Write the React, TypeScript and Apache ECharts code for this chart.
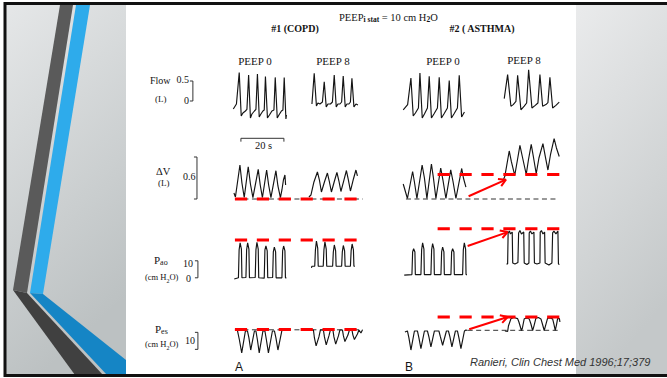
import React, { useEffect, useRef } from "react";
import * as echarts from "echarts";

// ---- Data (time in s on a shared per-row time axis; values in L or cmH2O) ----
// Row 1: Flow (L)
const flowA0 = [[3.9,-0.2],[5.35,-0.075],[6.65,0.71],[7.58,-0.375],[8.37,-0.3],[9.53,-0.25],[10.23,-0.21],[11.02,0.65],[11.86,-0.425],[12.56,-0.325],[13.72,-0.25],[14.42,-0.21],[15.12,0.675],[15.95,-0.4],[16.74,-0.325],[17.67,-0.25],[18.28,-0.225],[18.84,0.61],[19.77,-0.425],[20.7,-0.35],[21.86,-0.25],[22.79,-0.225],[23.4,0.59],[24.33,-0.425],[25.12,-0.35],[26.28,-0.25],[26.98,-0.225],[27.58,0.59],[28.37,-0.45],[28.6,-0.35]];
const flowA8 = [[40.47,-0.075],[41.53,0.69],[42.56,-0.125],[43.26,-0.05],[44.19,-0.075],[45.35,-0.025],[46.19,0.48],[47.12,-0.15],[47.91,-0.075],[49.07,-0.075],[50.0,-0.025],[50.84,0.65],[51.77,-0.15],[52.56,-0.075],[53.49,-0.075],[54.28,-0.025],[55.02,0.625],[55.95,-0.15],[56.74,-0.075],[57.67,-0.075],[58.37,-0.025],[59.07,0.57],[60.0,-0.15],[60.93,-0.075],[61.86,-0.1]];
const flowB0 = [[82.93,-0.22],[84.98,-0.09],[86.51,0.575],[87.58,-0.375],[88.6,-0.3],[90.0,-0.175],[90.7,0.7],[91.77,-0.425],[92.79,-0.325],[94.19,-0.175],[95.02,0.62],[96.05,-0.425],[97.21,-0.325],[98.84,-0.175],[99.67,0.59],[100.7,-0.425],[101.86,-0.325],[103.49,-0.175],[104.33,0.51],[105.35,-0.425],[106.51,-0.325],[108.14,-0.175],[108.98,0.64],[110.09,-0.4],[111.4,-0.275]];
const flowB8 = [[129.91,0.06],[131.49,0.66],[133.02,-0.13],[134.09,-0.09],[135.35,-0.01],[136.14,0.64],[137.67,-0.22],[139.21,-0.13],[140.33,-0.05],[141.26,0.78],[142.79,-0.175],[144.33,-0.11],[145.58,-0.05],[146.51,0.66],[147.77,-0.13],[149.3,-0.09],[150.23,-0.04],[151.16,0.59],[152.42,-0.175],[153.95,-0.11],[155.49,-0.03]];

// Row 2: ΔV (L)
const dvA0 = [[4.19,0.086],[4.88,0.029],[6.98,0.486],[7.91,0.229],[8.98,0.021],[10.84,0.461],[11.86,0.214],[13.02,0.021],[15.49,0.424],[16.42,0.2],[17.44,0.021],[19.4,0.414],[20.33,0.2],[21.4,0.021],[23.72,0.404],[24.65,0.186],[25.81,0.021],[26.51,0.129],[27.21,0.271],[27.91,0.343],[28.23,0.2]];
const dvA8 = [[39.07,0.029],[40.0,0.057],[41.4,0.243],[43.02,0.386],[43.95,0.271],[44.88,0.1],[46.28,0.243],[47.67,0.371],[48.6,0.243],[49.53,0.1],[50.93,0.257],[52.09,0.379],[53.02,0.257],[53.95,0.107],[55.35,0.271],[56.51,0.407],[57.44,0.271],[58.37,0.114],[59.77,0.286],[60.93,0.414],[61.63,0.329]];
const dvB0 = [[82.93,0.214],[84.88,0.007],[87.3,0.393],[88.14,0.243],[89.3,0.007],[91.72,0.486],[92.79,0.3],[93.95,0.007],[96.05,0.5],[96.98,0.3],[98.14,0.007],[100.37,0.443],[101.4,0.271],[102.79,0.007],[105.02,0.417],[106.05,0.257],[107.44,0.007],[110.14,0.436],[110.93,0.3],[112.09,0.171]];
const dvB8 = [[129.3,0.257],[130.23,0.329],[132.23,0.686],[133.26,0.529],[134.79,0.336],[136.05,0.557],[137.21,0.767],[138.37,0.6],[140.14,0.35],[141.16,0.557],[142.47,0.779],[143.49,0.6],[144.79,0.361],[146.05,0.586],[147.91,0.79],[148.98,0.614],[150.23,0.414],[151.4,0.629],[153.12,0.861],[154.19,0.729],[155.49,0.607]];

// Row 3: Pao (cmH2O)
const paoA0 = [[4.33,-0.7],[6.28,0],[6.6,16.4],[7.07,20.5],[7.67,16.9],[7.91,0],[9.77,0.2],[10.09,16.4],[10.56,20.5],[11.16,16.9],[11.4,0],[14.09,0.2],[14.42,16.4],[14.88,20.8],[15.49,16.9],[15.72,0],[18.28,-0.2],[18.6,16.4],[19.07,18.7],[19.67,15.8],[19.91,0],[22.19,0.2],[22.51,15.2],[22.98,18.1],[23.58,15.2],[23.81,0],[26.51,0],[26.84,15.8],[27.3,18.7],[27.91,15.8],[28.14,0],[28.6,0]];
const paoA8 = [[40.23,5.8],[40.47,6.8],[41.77,6.8],[42.09,16.4],[42.56,21.6],[43.16,17.5],[43.4,6.8],[45.72,6.8],[46.05,16.4],[46.51,21.1],[47.12,16.9],[47.35,6.8],[50.09,6.8],[50.42,15.2],[50.88,19.3],[51.49,15.8],[51.72,6.8],[54.28,6.8],[54.6,15.2],[55.07,19.0],[55.67,15.8],[55.91,6.8],[58.37,6.8],[58.7,15.8],[59.16,19.9],[59.77,16.4],[60.0,6.8],[60.47,6.8]];
const paoB0 = [[83.4,1.6],[86.98,1.9],[87.3,15.2],[87.77,17.1],[88.37,15.2],[88.56,1.9],[91.16,1.9],[91.49,16.4],[91.95,20.6],[92.56,16.9],[92.74,1.9],[95.81,1.9],[96.14,16.4],[96.6,20.1],[97.21,16.9],[97.4,1.9],[100.47,1.9],[100.79,15.2],[101.26,18.1],[101.86,15.2],[102.05,1.9],[105.12,1.9],[105.44,15.2],[105.91,17.1],[106.51,15.2],[106.7,1.9],[110.56,1.9],[110.88,16.4],[111.35,20.6],[111.95,16.9],[112.14,1.9],[112.56,1.9]];
const paoB8 = [[130.93,8.1],[131.49,8.1],[131.72,26.4],[132.33,27.5],[132.79,25.8],[133.63,26.9],[133.86,8.7],[134.88,8.1],[136.28,9.0],[136.6,26.4],[137.21,27.8],[137.91,25.8],[138.98,26.9],[139.21,8.7],[140.47,7.8],[141.4,8.7],[141.53,26.4],[142.09,27.5],[142.79,25.8],[143.72,26.9],[143.95,8.7],[145.12,8.1],[146.51,8.7],[146.65,26.9],[147.21,27.8],[147.91,25.8],[148.7,26.9],[148.93,8.7],[150.7,7.5],[152.09,8.7],[152.42,26.4],[153.02,27.5],[153.95,25.8],[154.88,27.5],[155.12,8.1],[155.58,7.8]];

// Row 4: Pes (cmH2O)
const pesA0 = [[4.88,-0.1],[5.81,-0.4],[6.74,-6.0],[7.81,-13.6],[9.53,-0.7],[10.47,-0.7],[11.16,-4.8],[12.0,-11.9],[13.72,-0.7],[14.42,-0.7],[15.12,-6.0],[15.95,-13.6],[17.67,-0.7],[18.6,-0.7],[19.3,-6.0],[20.23,-13.6],[22.09,-0.7],[23.02,-0.7],[23.72,-4.8],[24.65,-11.9],[26.51,-0.4],[28.37,0.2]];
const pesA8 = [[40.0,-0.1],[41.16,-0.1],[41.63,-4.8],[42.42,-9.5],[43.72,-4.2],[44.42,-0.1],[45.81,-0.1],[46.28,-4.2],[47.12,-8.9],[48.37,-3.6],[49.07,-0.1],[50.23,-0.1],[50.7,-4.2],[51.53,-8.4],[52.79,-3.6],[53.49,-0.1],[54.65,-0.1],[55.12,-3.6],[55.81,-6.9],[57.21,-3.1],[57.91,-0.1],[59.07,-0.1],[59.53,-3.1],[60.23,-5.7],[61.63,-2.5],[62.33,-0.1],[63.26,-1.9],[63.95,-0.1]];
const pesB0 = [[83.72,-1.3],[84.88,-0.7],[85.58,-4.8],[86.51,-11.9],[88.14,-0.7],[89.53,-0.7],[90.23,-4.8],[91.16,-11.1],[92.79,-0.7],[94.19,-0.7],[94.88,-4.2],[95.81,-10.1],[97.44,-0.7],[99.53,-0.7],[100.23,-4.2],[101.26,-9.1],[103.02,-0.7],[103.95,-0.7],[104.65,-4.2],[105.58,-10.1],[107.21,-0.7],[108.14,-0.7],[108.84,-4.8],[109.77,-11.1],[111.4,-0.7],[112.09,-0.1],[112.79,-0.4]];
const pesB8 = [[130.23,-0.7],[131.49,-1.0],[131.86,2.2],[133.02,6.5],[134.42,7.2],[136.14,6.6],[136.74,4.6],[137.91,-0.4],[138.37,1.1],[139.21,6.5],[140.47,6.9],[141.53,6.4],[142.33,3.4],[143.12,-0.4],[143.72,2.2],[144.65,6.9],[145.81,7.2],[146.98,6.4],[147.67,3.4],[148.51,-0.4],[149.07,2.2],[150.09,6.9],[151.16,6.9],[152.42,6.4],[153.02,3.4],[153.63,-0.4],[154.19,2.8],[154.74,6.6],[155.58,6.6],[155.81,4.6]];

// Reference levels (red dashed) and baselines (black dashed)
const dvRedA = [[4.65,0],[61.4,0]];
const paoRedA = [[4.65,22.2],[61.4,22.2]];
const pesRedA = [[4.65,0.2],[61.4,0.2]];
const dvRedB = [[98.93,0.35],[155.81,0.35]];
const paoRedB = [[98.93,28.9],[155.81,28.9]];
const pesRedB = [[98.93,7.5],[155.81,7.5]];
const dvBaseA = [[4.65,0],[64.2,0]];
const pesBaseA = [[4.65,0],[64.2,0]];
const dvBaseB = [[84.2,0],[155.3,0]];
const pesBaseB = [[112.9,-0.3],[155.3,-0.3]];

// Arrows (shaft and head)
const dvArrow = [[113.35,0.039],[130.7,0.276]];
const dvArrowHead = [[126.98,0.287],[130.7,0.276],[128.51,0.183]];
const paoArrow = [[112.88,18.7],[131.49,26.9]];
const paoArrowHead = [[127.81,27.8],[131.49,26.9],[129.07,23.4]];
const pesArrow = [[113.63,0.3],[131.49,7.5]];
const pesArrowHead = [[127.86,8.5],[131.49,7.5],[128.98,4.1]];

// Scale brackets and time bar
const flowBracket = [[-16.3,0.5],[-14.9,0.5],[-14.9,0],[-16.3,0]];
const dvBracket = [[-14.4,0.6],[-13.0,0.6],[-13.0,0],[-14.4,0]];
const paoBracket = [[-13.95,10],[-12.56,10],[-12.56,0],[-13.95,0]];
const pesBracket = [[-13.95,-1.5],[-12.56,-1.5],[-12.56,-11.5],[-13.95,-11.5]];
const timeBar = [[7.44,0.819],[7.44,0.867],[27.44,0.867],[27.44,0.819]];

const rowRanges = [[-0.6, 0.9], [-0.15, 1.0], [-4, 34], [-18, 14]];
const rowTops = [65, 129, 220, 306];
const rowHeights = [60, 80.5, 64.6, 54.4];

const SERIF = "Liberation Serif";
const INK = "#141414";

export default function App() {
  const ref = useRef<HTMLDivElement>(null);
  useEffect(() => {
    if (!ref.current) return;
    const chart = echarts.init(ref.current, undefined, { renderer: "svg" });

    const trace = (data: number[][], g: number, extra: any = {}) => ({
      type: "line",
      xAxisIndex: g,
      yAxisIndex: g,
      data,
      symbol: "none",
      showSymbol: false,
      silent: true,
      clip: false,
      z: extra.z ?? 3,
      lineStyle: { color: INK, width: 1.15, ...(extra.ls || {}) },
    });
    const red = (data: number[][], g: number) =>
      trace(data, g, { z: 5, ls: { color: "#ff0000", width: 3, type: [12.2, 9.7], cap: "butt" } });
    const base = (data: number[][], g: number) =>
      trace(data, g, { z: 2, ls: { color: "#333", width: 1, type: [5, 3.5] } });
    const arrow = (data: number[][], g: number) =>
      trace(data, g, { z: 6, ls: { color: "#ff0000", width: 2 } });
    const thin = (data: number[][], g: number) =>
      trace(data, g, { ls: { color: "#333", width: 1 } });

    const txt = (text: string, x: number, y: number, o: any = {}) => ({
      type: "text",
      x,
      y,
      silent: true,
      style: {
        text,
        fontFamily: o.family || SERIF,
        fontSize: o.size || 10,
        fontWeight: o.weight || "normal",
        fontStyle: o.style || "normal",
        fill: o.fill || INK,
        align: o.align || "left",
        verticalAlign: "middle",
        lineHeight: o.lh || 13,
        rich: o.rich,
      },
    });
    const subRich = (size: number, weight = "normal") => ({
      s: { fontFamily: SERIF, fontSize: size, fontWeight: weight, lineHeight: size, verticalAlign: "bottom", fill: INK },
    });

    const option: any = {
      animation: false,
      backgroundColor: "#ffffff",
      grid: rowTops.map((t, i) => ({ left: 140, width: 430, top: t, height: rowHeights[i], show: false })),
      xAxis: rowTops.map((_, i) => ({ type: "value", gridIndex: i, min: -39.5, max: 160.5, show: false })),
      yAxis: rowTops.map((_, i) => ({ type: "value", gridIndex: i, min: rowRanges[i][0], max: rowRanges[i][1], show: false })),
      series: [
        trace(flowA0, 0), trace(flowA8, 0), trace(flowB0, 0), trace(flowB8, 0),
        trace(dvA0, 1), trace(dvA8, 1), trace(dvB0, 1), trace(dvB8, 1),
        trace(paoA0, 2), trace(paoA8, 2), trace(paoB0, 2), trace(paoB8, 2),
        trace(pesA0, 3), trace(pesA8, 3), trace(pesB0, 3), trace(pesB8, 3),
        base(dvBaseA, 1), base(pesBaseA, 3), base(dvBaseB, 1), base(pesBaseB, 3),
        red(dvRedA, 1), red(paoRedA, 2), red(pesRedA, 3),
        red(dvRedB, 1), red(paoRedB, 2), red(pesRedB, 3),
        arrow(dvArrow, 1), arrow(dvArrowHead, 1),
        arrow(paoArrow, 2), arrow(paoArrowHead, 2),
        arrow(pesArrow, 3), arrow(pesArrowHead, 3),
        thin(flowBracket, 0), thin(dvBracket, 1), thin(paoBracket, 2), thin(pesBracket, 3),
        thin(timeBar, 1),
      ],
      graphic: [
        {
          type: "rect", z: 0, silent: true,
          shape: { x: 6, y: 5, width: 120, height: 369 },
          style: { fill: { type: "linear", x: 0, y: 0, x2: 0.3, y2: 1, colorStops: [{ offset: 0, color: "#e5e7e8" }, { offset: 1, color: "#bcc1c2" }] } },
        },
        {
          type: "rect", z: 0, silent: true,
          shape: { x: 576, y: 5, width: 95, height: 369 },
          style: { fill: { type: "linear", x: 0, y: 0, x2: 0.3, y2: 1, colorStops: [{ offset: 0, color: "#eaebec" }, { offset: 1, color: "#c4c8c9" }] } },
        },
        { type: "polygon", z: 1, silent: true, shape: { points: [[60, 5], [73, 5], [27, 293], [13, 290]] }, style: { fill: "#5a5a5a" } },
        { type: "polygon", z: 1, silent: true, shape: { points: [[76, 5], [90, 5], [43, 294], [30, 293]] }, style: { fill: "#2eabeb" } },
        { type: "polygon", z: 1, silent: true, shape: { points: [[13, 290], [27, 293], [103, 375], [75, 375]] }, style: { fill: "#404040" } },
        { type: "polygon", z: 1, silent: true, shape: { points: [[30, 293], [43, 294], [126, 360], [126, 375], [107, 375]] }, style: { fill: "#1585c5" } },
        {
          type: "rect", z: 20, silent: true,
          shape: { x: 5, y: 3.5, width: 680, height: 372 },
          style: { fill: "none", stroke: "#111", lineWidth: 3 },
        },
        txt("PEEP{s|i stat} = 10 cm H{s|2}O", 339, 17, { size: 10.5, rich: subRich(7.5, "bold") }),
        txt("#1 (COPD)", 295, 28.5, { align: "center", weight: "bold", size: 10 }),
        txt("#2 ( ASTHMA)", 482, 28.5, { align: "center", weight: "bold", size: 10 }),
        txt("PEEP 0", 255, 61, { align: "center", size: 11 }),
        txt("PEEP 8", 333, 61, { align: "center", size: 11 }),
        txt("PEEP 0", 443, 61, { align: "center", size: 11 }),
        txt("PEEP 8", 524, 60, { align: "center", size: 11 }),
        txt("Flow", 150, 80.5, { size: 10 }),
        txt("(L)", 155, 98.5, { size: 9 }),
        txt("0.5", 189, 79.5, { align: "right", size: 10 }),
        txt("0", 189, 100, { align: "right", size: 10 }),
        txt("20 s", 263.5, 145.5, { align: "center", size: 10.5 }),
        txt("ΔV", 156, 171, { size: 10.5 }),
        txt("(L)", 158, 183, { size: 9 }),
        txt("0.6", 183, 176, { size: 10 }),
        txt("P{s|ao}", 154, 260, { size: 11, rich: subRich(8) }),
        txt("(cm H{s|2}O)", 145, 277, { size: 8.5, rich: subRich(6) }),
        txt("10", 193, 263, { align: "right", size: 10 }),
        txt("0", 191, 278.5, { align: "right", size: 10 }),
        txt("P{s|es}", 155, 329, { size: 11, rich: subRich(8) }),
        txt("(cm H{s|2}O)", 145, 344, { size: 8.5, rich: subRich(6) }),
        txt("10", 195, 340, { align: "right", size: 10 }),
        txt("A", 239, 366.5, { align: "center", size: 12, family: "Liberation Sans" }),
        txt("B", 409, 366.5, { align: "center", size: 12, family: "Liberation Sans" }),
        txt("Ranieri, Clin Chest Med 1996;17;379", 470, 362, { size: 11, family: "Liberation Sans", style: "italic", fill: "#333" }),
      ],
    };
    chart.setOption(option);
    return () => chart.dispose();
  }, []);

  return (
    <div
      ref={ref}
      style={{ position: "absolute", left: 0, top: 0, width: 667, height: 378 }}
    />
  );
}
